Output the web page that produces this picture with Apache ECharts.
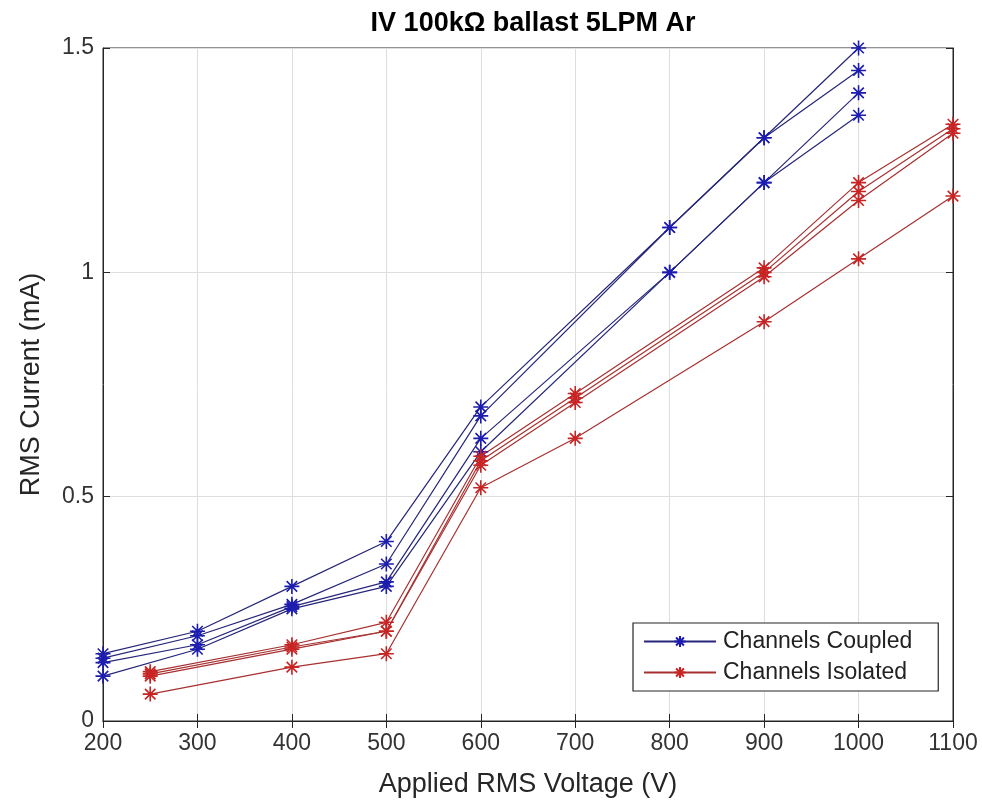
<!DOCTYPE html>
<html>
<head>
<meta charset="utf-8">
<script src="https://cdn.jsdelivr.net/npm/echarts@6/dist/echarts.min.js"></script>
<style>
  html, body { margin: 0; padding: 0; background: #ffffff; }
  #chart { width: 982px; height: 803px; }
</style>
</head>
<body>
<div id="chart"></div>
<script>
// ---- data ----
const titleText = 'IV 100k\u03A9 ballast 5LPM Ar';
const xAxisName = 'Applied RMS Voltage (V)';
const yAxisName = 'RMS Current (mA)';
const legendNames = ['Channels Coupled', 'Channels Isolated'];

const xTicks = [200, 300, 400, 500, 600, 700, 800, 900, 1000, 1100];
const yTicks = [0, 0.5, 1, 1.5];

const coupledVoltage = [200, 300, 400, 500, 600, 800, 900, 1000];
const coupled1 = [0.15, 0.20, 0.30, 0.40, 0.70, 1.10, 1.30, 1.50];
const coupled2 = [0.14, 0.19, 0.26, 0.35, 0.68, 1.10, 1.30, 1.45];
const coupled3 = [0.13, 0.17, 0.255, 0.31, 0.63, 1.00, 1.20, 1.40];
const coupled4 = [0.10, 0.16, 0.25, 0.30, 0.60, 1.00, 1.20, 1.35];

const isolatedVoltage = [250, 400, 500, 600, 700, 900, 1000, 1100];
const isolated1 = [0.11, 0.17, 0.22, 0.59, 0.73, 1.01, 1.20, 1.33];
const isolated2 = [0.105, 0.165, 0.20, 0.58, 0.72, 1.00, 1.18, 1.32];
const isolated3 = [0.10, 0.16, 0.20, 0.57, 0.71, 0.99, 1.16, 1.31];
const isolated4 = [0.06, 0.12, 0.15, 0.52, 0.63, 0.89, 1.03, 1.17];

// ---- styling ----
const FONT = 'Liberation Sans, Arial, sans-serif';
const AXIS_COLOR = '#262626';
const BLUE_LINE = '#26267a';
const BLUE_MARK = '#1c1cb0';
const RED_LINE = '#a83030';
const RED_MARK = '#c82424';
const ASTERISK = 'path://M10,0L10,20M0,10L20,10M3,3L17,17M3,17L17,3';

function zip(xs, ys) { return xs.map((x, i) => [x, ys[i]]); }

function makeSeries(name, xs, ys, lineColor, markColor) {
  return {
    name: name,
    type: 'line',
    data: zip(xs, ys),
    symbol: ASTERISK,
    symbolSize: 15,
    showAllSymbol: true,
    lineStyle: { color: lineColor, width: 1.2 },
    itemStyle: { color: markColor, borderColor: markColor, borderWidth: 1.6 },
    emphasis: { disabled: true },
    animation: false,
    z: 3
  };
}

const series = [
  makeSeries(legendNames[0], coupledVoltage, coupled1, BLUE_LINE, BLUE_MARK),
  makeSeries(legendNames[0], coupledVoltage, coupled2, BLUE_LINE, BLUE_MARK),
  makeSeries(legendNames[0], coupledVoltage, coupled3, BLUE_LINE, BLUE_MARK),
  makeSeries(legendNames[0], coupledVoltage, coupled4, BLUE_LINE, BLUE_MARK),
  makeSeries(legendNames[1], isolatedVoltage, isolated1, RED_LINE, RED_MARK),
  makeSeries(legendNames[1], isolatedVoltage, isolated2, RED_LINE, RED_MARK),
  makeSeries(legendNames[1], isolatedVoltage, isolated3, RED_LINE, RED_MARK),
  makeSeries(legendNames[1], isolatedVoltage, isolated4, RED_LINE, RED_MARK)
];

const xMin = xTicks[0], xMax = xTicks[xTicks.length - 1];
const yMin = yTicks[0], yMax = yTicks[yTicks.length - 1];

const chart = echarts.init(document.getElementById('chart'), null, { renderer: 'canvas' });
chart.setOption({
  backgroundColor: '#ffffff',
  animation: false,
  textStyle: { fontFamily: FONT },
  title: {
    text: titleText,
    left: 528,
    textAlign: 'center',
    top: 5,
    textStyle: { fontFamily: FONT, fontSize: 27, fontWeight: 'bold', color: '#000000' }
  },
  grid: {
    left: 103, right: 29, top: 48, bottom: 82,
    show: true, borderColor: AXIS_COLOR, borderWidth: 1, backgroundColor: 'transparent'
  },
  legend: {
    data: legendNames,
    orient: 'vertical',
    left: 633,
    top: 623,
    padding: [7, 26, 7, 10],
    itemGap: 8,
    itemWidth: 72,
    itemHeight: 14,
    backgroundColor: '#ffffff',
    borderColor: AXIS_COLOR,
    borderWidth: 1.2,
    borderRadius: 0,
    textStyle: { fontFamily: FONT, fontSize: 23, color: '#222222', padding: [0, 0, 0, 2] },
    selectedMode: false
  },
  xAxis: [
    {
      type: 'value', min: xMin, max: xMax, interval: 100,
      name: xAxisName, nameLocation: 'middle', nameGap: 50,
      nameTextStyle: { fontFamily: FONT, fontSize: 27, color: '#262626' },
      axisLine: { show: true, lineStyle: { color: AXIS_COLOR, width: 1 } },
      axisTick: { show: true, inside: true, length: 7, lineStyle: { color: AXIS_COLOR } },
      axisLabel: { fontFamily: FONT, fontSize: 23, color: '#333333', margin: 11,
                   formatter: function (v) { return String(v); } },
      splitLine: { show: true, lineStyle: { color: '#dedede', width: 1 } }
    },
    {
      type: 'value', position: 'top', min: xMin, max: xMax, interval: 100,
      axisLine: { show: true, lineStyle: { color: AXIS_COLOR, width: 1 } },
      axisTick: { show: true, inside: true, length: 7, lineStyle: { color: AXIS_COLOR } },
      axisLabel: { show: false },
      splitLine: { show: false }
    }
  ],
  yAxis: [
    {
      type: 'value', min: yMin, max: yMax, interval: 0.5,
      name: yAxisName, nameLocation: 'middle', nameGap: 58,
      nameTextStyle: { fontFamily: FONT, fontSize: 27, color: '#262626' },
      axisLine: { show: true, lineStyle: { color: AXIS_COLOR, width: 1 } },
      axisTick: { show: true, inside: true, length: 7, lineStyle: { color: AXIS_COLOR } },
      axisLabel: { fontFamily: FONT, fontSize: 23, color: '#333333', margin: 9,
                   formatter: function (v) { return String(v); } },
      splitLine: { show: true, lineStyle: { color: '#dedede', width: 1 } }
    },
    {
      type: 'value', position: 'right', min: yMin, max: yMax, interval: 0.5,
      axisLine: { show: true, lineStyle: { color: AXIS_COLOR, width: 1 } },
      axisTick: { show: true, inside: true, length: 7, lineStyle: { color: AXIS_COLOR } },
      axisLabel: { show: false },
      splitLine: { show: false }
    }
  ],
  series: series
});
</script>
</body>
</html>
